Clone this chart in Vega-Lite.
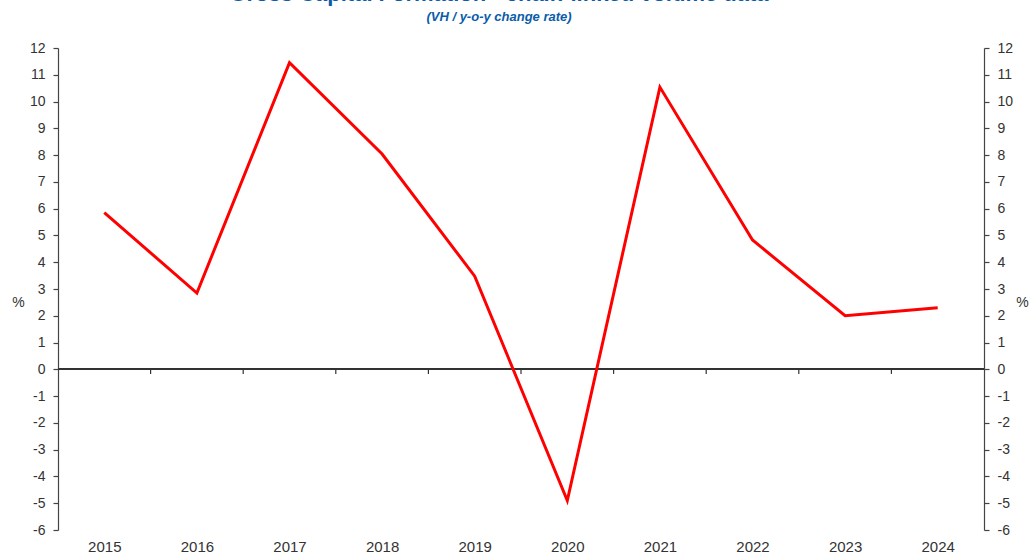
{
  "$schema": "https://vega.github.io/schema/vega-lite/v6.json",
  "autosize": "none",
  "width": 926,
  "height": 482,
  "padding": {"left": 58, "top": 48, "right": 45, "bottom": 25},
  "background": "white",
  "config": {"view": {"stroke": null}, "font": "Liberation Sans"},
  "title": {
    "text": "Gross Capital Formation - chain-linked volume data",
    "subtitle": "(VH / y-o-y change rate)",
    "color": "#0a5ca8",
    "fontSize": 22,
    "fontWeight": "bold",
    "font": "Liberation Sans",
    "subtitleColor": "#0a5ca8",
    "subtitleFontSize": 13,
    "subtitleFontStyle": "italic",
    "subtitleFontWeight": "bold",
    "subtitleFont": "Liberation Sans",
    "subtitlePadding": 5,
    "anchor": "middle",
    "frame": "group",
    "dx": -22,
    "offset": 16
  },
  "datasets": {
    "gcf": [
      {"year": 2015, "value": 5.85},
      {"year": 2016, "value": 2.85},
      {"year": 2017, "value": 11.45},
      {"year": 2018, "value": 8.04},
      {"year": 2019, "value": 3.48},
      {"year": 2020, "value": -4.9},
      {"year": 2021, "value": 10.54},
      {"year": 2022, "value": 4.83},
      {"year": 2023, "value": 2.0},
      {"year": 2024, "value": 2.3}
    ],
    "bounds": [
      {"b": 2015.5}, {"b": 2016.5}, {"b": 2017.5}, {"b": 2018.5}, {"b": 2019.5},
      {"b": 2020.5}, {"b": 2021.5}, {"b": 2022.5}, {"b": 2023.5}
    ]
  },
  "layer": [
    {
      "data": {"name": "bounds"},
      "mark": {"type": "rule", "color": "#333333", "strokeWidth": 1.2},
      "encoding": {
        "x": {"field": "b", "type": "quantitative", "scale": {"domain": [2014.5, 2024.5], "nice": false, "zero": false}},
        "y": {"datum": 0, "type": "quantitative", "scale": {"domain": [-6, 12], "nice": false, "zero": false}, "axis": null},
        "y2": {"datum": -0.17}
      }
    },
    {
      "data": {"name": "gcf"},
      "mark": {"type": "rule", "color": "#333333", "strokeWidth": 1.5},
      "encoding": {"y": {"datum": 0, "type": "quantitative", "scale": {"domain": [-6, 12], "nice": false, "zero": false}, "axis": null}}
    },
    {
      "data": {"name": "gcf"},
      "mark": {"type": "line", "color": "#ff0000", "strokeWidth": 3},
      "encoding": {
        "x": {
          "field": "year", "type": "quantitative",
          "scale": {"domain": [2014.5, 2024.5], "nice": false, "zero": false},
          "axis": {
            "values": [2015, 2016, 2017, 2018, 2019, 2020, 2021, 2022, 2023, 2024],
            "format": "d", "title": null, "domain": false, "ticks": false, "grid": false,
            "labelFontSize": 15, "labelColor": "#333333", "labelPadding": 9, "labelFont": "Liberation Sans"
          }
        },
        "y": {
          "field": "value", "type": "quantitative",
          "scale": {"domain": [-6, 12], "nice": false, "zero": false},
          "axis": {
            "orient": "left",
            "values": [-6, -5, -4, -3, -2, -1, 0, 1, 2, 3, 4, 5, 6, 7, 8, 9, 10, 11, 12],
            "labelExpr": "(datum.value < 0 ? '-' : '') + abs(datum.value)",
            "grid": false, "domainColor": "#444444", "domainWidth": 1.2, "tickColor": "#444444", "tickSize": 5, "tickWidth": 1.2,
            "labelFontSize": 14, "labelColor": "#333333", "labelPadding": 8, "labelFont": "Liberation Sans",
            "title": "%", "titleAngle": 0, "titleX": -40, "titleY": 254, "titleAlign": "center", "titleBaseline": "middle",
            "titleFontSize": 14, "titleFontWeight": "normal", "titleColor": "#333333", "titleFont": "Liberation Sans"
          }
        }
      }
    },
    {
      "data": {"name": "gcf"},
      "mark": {"type": "line", "color": "#ff0000", "strokeWidth": 3, "opacity": 0},
      "encoding": {
        "x": {"field": "year", "type": "quantitative"},
        "y": {
          "field": "value", "type": "quantitative",
          "scale": {"domain": [-6, 12], "nice": false, "zero": false},
          "axis": {
            "orient": "right",
            "values": [-6, -5, -4, -3, -2, -1, 0, 1, 2, 3, 4, 5, 6, 7, 8, 9, 10, 11, 12],
            "labelExpr": "(datum.value < 0 ? '-' : '') + abs(datum.value)",
            "grid": false, "domainColor": "#444444", "domainWidth": 1.2, "tickColor": "#444444", "tickSize": 5, "tickWidth": 1.2,
            "labelFontSize": 14, "labelColor": "#333333", "labelPadding": 8, "labelFont": "Liberation Sans",
            "title": "%", "titleAngle": 0, "titleX": 38, "titleY": 254, "titleAlign": "center", "titleBaseline": "middle",
            "titleFontSize": 14, "titleFontWeight": "normal", "titleColor": "#333333", "titleFont": "Liberation Sans"
          }
        }
      }
    }
  ],
  "resolve": {"scale": {"y": "independent"}, "axis": {"y": "independent"}}
}
